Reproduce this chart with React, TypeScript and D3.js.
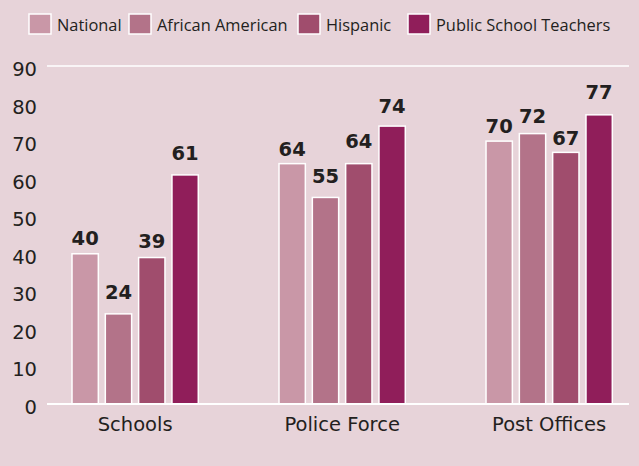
import React from "react";
import * as d3 from "d3";

const categories = ["Schools", "Police Force", "Post Offices"];
const seriesNames = ["National", "African American", "Hispanic", "Public School Teachers"];
const national = [40, 64, 70];
const africanAmerican = [24, 55, 72];
const hispanic = [39, 64, 67];
const teachers = [61, 74, 77];
const yTicks = [0, 10, 20, 30, 40, 50, 60, 70, 80, 90];

const seriesValues = [national, africanAmerican, hispanic, teachers];
const colors = ["#c997a7", "#b37389", "#a04d6d", "#901e5a"];
// extra vertical lift of value labels (px), per series per category
const labelLift = [
  [0, -1.5, -1],
  [5.5, 5, 1.5],
  [1, 6.5, -1.8],
  [6, 4, 7],
];
const legendX = [29, 129, 298, 408];

const W = 639;
const H = 466;

export default function App() {
  const x0 = d3.scaleBand<string>().domain(categories).range([72, 612.3]).paddingInner(0.39).paddingOuter(0);
  const x1 = d3.scaleBand<string>().domain(seriesNames).range([0, x0.bandwidth()]).paddingInner(0.21).paddingOuter(0);
  const y = d3.scaleLinear().domain([0, 90]).range([404, 66]);

  return (
    <svg width={W} height={H} style={{ position: "absolute", left: 0, top: 0, display: "block" }}>
      <rect x={0} y={0} width={W} height={H} fill="#e7d3d9" />
      {/* legend */}
      {seriesNames.map((s, i) => (
        <g key={s}>
          <rect x={legendX[i]} y={14} width={22} height={20} fill={colors[i]} stroke="#fff" strokeWidth={1.5} />
          <text x={legendX[i] + 28} y={31} fontFamily="'Open Sans', sans-serif" fontSize={16.4} fill="#231f20">{s}</text>
        </g>
      ))}
      {/* y tick labels */}
      {yTicks.map((t) => (
        <text key={t} x={37} y={y(t) + 10} textAnchor="end" fontFamily="'DejaVu Sans', sans-serif" fontSize={19.5} fill="#231f20">{t}</text>
      ))}
      {/* top gridline */}
      <line x1={47} x2={629} y1={y(90)} y2={y(90)} stroke="#fff" strokeWidth={1.5} />
      {/* bars */}
      {categories.map((c, ci) => (
        <g key={c} transform={`translate(${x0(c)},0)`}>
          {seriesNames.map((s, si) => {
            const v = seriesValues[si][ci];
            const bx = x1(s)!;
            const bw = x1.bandwidth();
            return (
              <g key={s}>
                <rect x={bx} y={y(v)} width={bw} height={y(0) - y(v)} fill={colors[si]} stroke="#fff" strokeWidth={1.5} />
                <text x={bx + bw / 2} y={y(v) - 9 - labelLift[si][ci]} textAnchor="middle" fontFamily="'DejaVu Sans', sans-serif" fontWeight="bold" fontSize={19.5} fill="#231f20">{v}</text>
              </g>
            );
          })}
          <text x={x0.bandwidth() / 2} y={431} textAnchor="middle" fontFamily="'DejaVu Sans', sans-serif" fontSize={19.5} fill="#231f20">{c}</text>
        </g>
      ))}
      {/* baseline */}
      <line x1={47} x2={629} y1={y(0)} y2={y(0)} stroke="#fff" strokeWidth={2} />
    </svg>
  );
}
